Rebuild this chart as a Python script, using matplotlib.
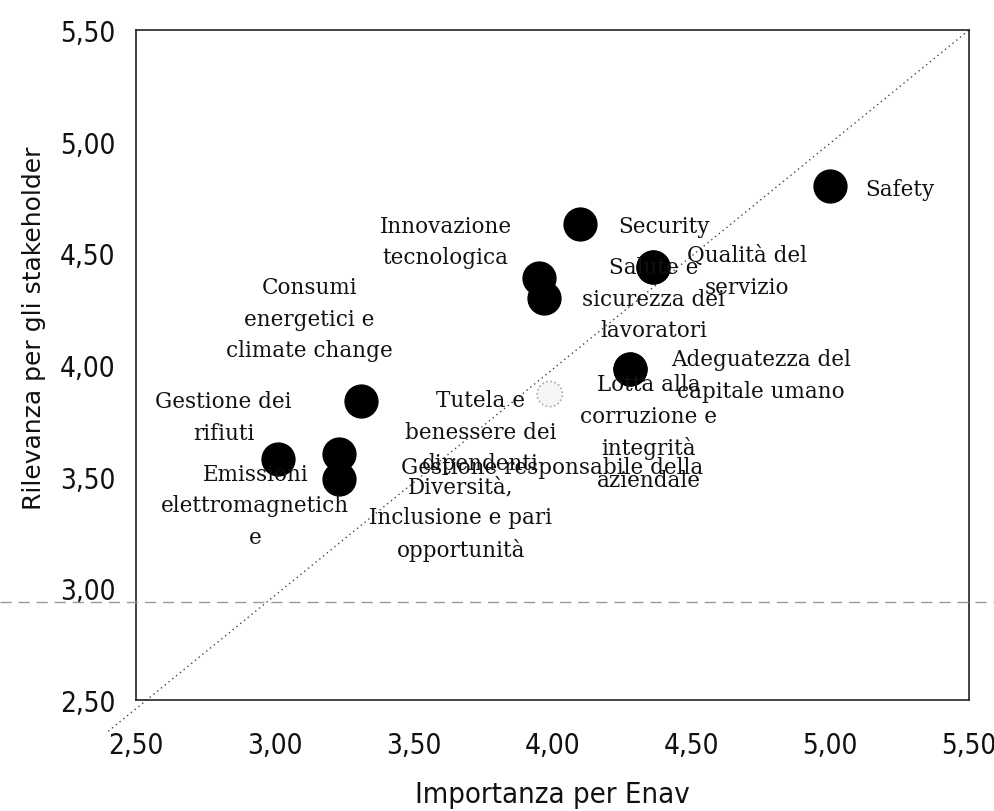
import matplotlib
matplotlib.use("Agg")
import matplotlib.pyplot as plt
from matplotlib.lines import Line2D

# Materiality matrix values
topics = [
    "Safety",
    "Security",
    "Salute e\nsicurezza dei\nlavoratori",
    "Qualità del\nservizio",
    "Innovazione\ntecnologica",
    "Gestione responsabile della",
    "Lotta alla\ncorruzione e\nintegrità\naziendale",
    "Adeguatezza del\ncapitale umano",
    "Tutela e\nbenessere dei\ndipendenti",
    "Consumi\nenergetici e\nclimate change",
    "Gestione dei\nrifiuti",
    "Diversità,\nInclusione e pari\nopportunità",
    "Emissioni\nelettromagnetich\ne",
]
importanza_enav = [5.00, 4.10, 4.36, 4.36, 3.95, 3.97, 4.28, 4.28, 3.99, 3.31, 3.01, 3.23, 3.23]
rilevanza_stakeholder = [4.80, 4.63, 4.44, 4.44, 4.39, 4.30, 3.98, 3.98, 3.87, 3.84, 3.58, 3.60, 3.49]
faint = [False, False, False, False, False, False, False, False, True, False, False, False, False]

tick_values = [2.5, 3.0, 3.5, 4.0, 4.5, 5.0, 5.5]
tick_labels = ["2,50", "3,00", "3,50", "4,00", "4,50", "5,00", "5,50"]

# Label offsets (points) of each label centre relative to its marker
label_offsets = [
    (50, -2), (60, -1), (1, -23), (68, -3), (-67, 26), (6, -122),
    (13, -45), (94, -4), (-50, -27), (-37, 59), (-39, 30), (88, -46), (-60, -19),
]

fig = plt.figure(figsize=(9.95, 8.12), dpi=100)
ax = fig.add_axes([0.1367, 0.1367, 0.8373, 0.8251])
ax.set_xlim(2.5, 5.5)
ax.set_ylim(2.5, 5.5)

# reference diagonal
ax.plot([2.40, 5.5], [2.36, 5.5], linestyle=(0, (1, 2.5)), color="#444444",
        linewidth=1.0, clip_on=False, zorder=1)

for x, y, f in zip(importanza_enav, rilevanza_stakeholder, faint):
    if f:
        ax.scatter([x], [y], s=330, facecolor="#f6f6f6", edgecolor="#aaaaaa",
                   linewidth=1.2, linestyle=(0, (1, 1.5)), zorder=3)
    else:
        ax.scatter([x], [y], s=560, color="black", zorder=3)

for t, x, y, (dx, dy) in zip(topics, importanza_enav, rilevanza_stakeholder, label_offsets):
    ax.annotate(t, (x, y), xytext=(dx, dy), textcoords="offset points",
                ha="center", va="center", family="DejaVu Serif", fontsize=15.5,
                linespacing=1.55, color="#111111", zorder=4)

ax.set_xticks(tick_values)
ax.set_xticklabels(tick_labels)
ax.set_yticks(tick_values)
ax.set_yticklabels(tick_labels)
ax.tick_params(length=0, labelsize=20, colors="#111111")
ax.tick_params(axis="x", pad=22)
ax.tick_params(axis="y", pad=15)
for lab in ax.get_xticklabels() + ax.get_yticklabels():
    lab.set_fontstretch("condensed")

for side in ["left", "right", "top", "bottom"]:
    ax.spines[side].set_color("#222222")
    ax.spines[side].set_linewidth(1.2)
ax.spines["right"].set_linestyle((0, (4, 1)))
ax.spines["left"].set_linestyle((0, (6, 1)))

ax.set_xlabel("Importanza per Enav", fontsize=21, fontstretch="condensed",
              color="#111111")
ax.xaxis.set_label_coords(0.5, -0.119)
ax.set_ylabel("Rilevanza per gli stakeholder", fontsize=18, color="#111111")
ax.yaxis.set_label_coords(-0.108, 0.557)

# dashed rule running across the page
fig.add_artist(Line2D([0, 1], [0.2574, 0.2574], transform=fig.transFigure,
                      color="#999999", linewidth=1.0, linestyle=(0, (8, 5))))

fig.savefig("out.png", dpi=100, facecolor="white")
